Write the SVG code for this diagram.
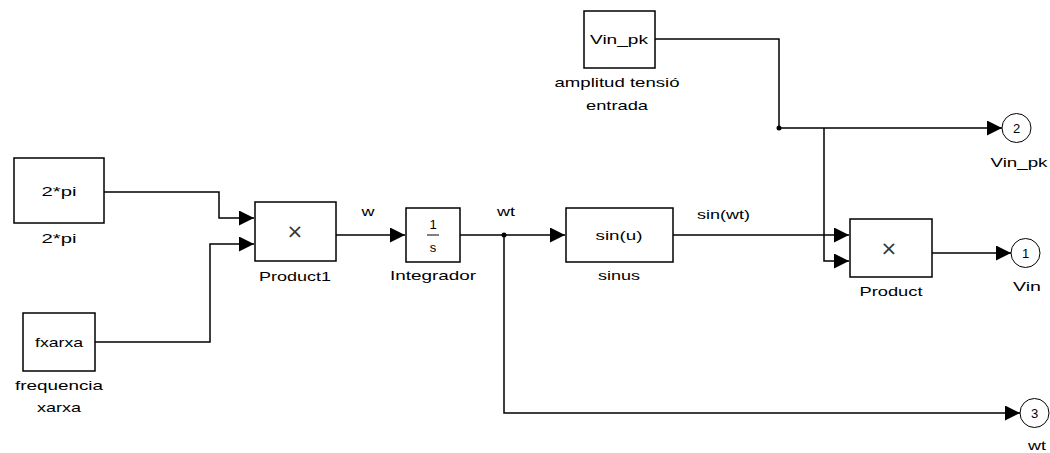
<svg xmlns="http://www.w3.org/2000/svg" width="1050" height="453" viewBox="0 0 1050 453">
<style>
.blk{fill:#fff;stroke:#000;stroke-width:1.5}
.port{fill:#fff;stroke:#000;stroke-width:1}
.t{font-family:"Liberation Sans",Arial,sans-serif;font-size:13px;fill:#000}
.c{text-anchor:middle}
.x{font-family:"DejaVu Sans",sans-serif;font-size:20px;fill:#333;text-anchor:middle}
.w{fill:none;stroke:#000;stroke-width:1.5}
</style>
<defs>
<marker id="ah" markerUnits="userSpaceOnUse" markerWidth="16" markerHeight="16" refX="15" refY="7.5" orient="auto">
<path d="M0,0 L15,7.5 L0,15 z" fill="#000"/>
</marker>
</defs>
<rect width="1050" height="453" fill="#fff"/>
<g id="connectors">
<path class="w" d="M104,192 H219 V218 H254" marker-end="url(#ah)"/>
<path class="w" d="M95,342 H210 V244 H254" marker-end="url(#ah)"/>
<path class="w" d="M336,235 H405" marker-end="url(#ah)"/>
<path class="w" d="M460,235 H565" marker-end="url(#ah)"/>
<path class="w" d="M504,235 V413 H1020" marker-end="url(#ah)"/>
<path class="w" d="M673,235 H849" marker-end="url(#ah)"/>
<path class="w" d="M655,39 H779 V128 H1002" marker-end="url(#ah)"/>
<path class="w" d="M824,128 V261 H849" marker-end="url(#ah)"/>
<path class="w" d="M932,253 H1011" marker-end="url(#ah)"/>
<circle cx="504" cy="235" r="2.5" fill="#000"/>
<circle cx="779" cy="128" r="2.5" fill="#000"/>
<text class="t c" x="368" y="216" textLength="13" lengthAdjust="spacingAndGlyphs">w</text>
<text class="t c" x="506" y="216" textLength="18" lengthAdjust="spacingAndGlyphs">wt</text>
<text class="t" x="697" y="219" textLength="53" lengthAdjust="spacingAndGlyphs">sin(wt)</text>
</g>
<g id="twopi">
<rect class="blk" x="14" y="158" width="90" height="65"/>
<text class="t c" x="59" y="196" textLength="35" lengthAdjust="spacingAndGlyphs">2*pi</text>
<text class="t c" x="59" y="243" textLength="35" lengthAdjust="spacingAndGlyphs">2*pi</text>
</g>
<g id="fxarxa">
<rect class="blk" x="23" y="313" width="72" height="58"/>
<text class="t c" x="59" y="347" textLength="48" lengthAdjust="spacingAndGlyphs">fxarxa</text>
<text class="t c" x="59" y="390" textLength="88" lengthAdjust="spacingAndGlyphs">frequencia</text>
<text class="t c" x="59" y="412" textLength="44" lengthAdjust="spacingAndGlyphs">xarxa</text>
</g>
<g id="product1">
<rect class="blk" x="255" y="202" width="81" height="59"/>
<text class="x" x="295" y="238">×</text>
<text class="t c" x="295" y="281" textLength="72" lengthAdjust="spacingAndGlyphs">Product1</text>
</g>
<g id="integrador">
<rect class="blk" x="406" y="208" width="54" height="54"/>
<text class="t c" x="433" y="229">1</text>
<line x1="427" y1="235" x2="439" y2="235" stroke="#000" stroke-width="1"/>
<text class="t c" x="433" y="252">s</text>
<text class="t c" x="433" y="280" textLength="86" lengthAdjust="spacingAndGlyphs">Integrador</text>
</g>
<g id="sinus">
<rect class="blk" x="566" y="208" width="107" height="54"/>
<text class="t c" x="619" y="240" textLength="47" lengthAdjust="spacingAndGlyphs">sin(u)</text>
<text class="t c" x="619" y="280" textLength="42" lengthAdjust="spacingAndGlyphs">sinus</text>
</g>
<g id="vinpk">
<rect class="blk" x="584" y="11" width="71" height="57"/>
<text class="t c" x="619" y="44" textLength="58" lengthAdjust="spacingAndGlyphs">Vin_pk</text>
<text class="t c" x="617" y="87" textLength="125" lengthAdjust="spacingAndGlyphs">amplitud tensió</text>
<text class="t c" x="617" y="110" textLength="62" lengthAdjust="spacingAndGlyphs">entrada</text>
</g>
<g id="product">
<rect class="blk" x="850" y="219" width="82" height="58"/>
<text class="x" x="889" y="255">×</text>
<text class="t c" x="891" y="296" textLength="63" lengthAdjust="spacingAndGlyphs">Product</text>
</g>
<g id="out2">
<circle class="port" cx="1016.5" cy="128" r="14.5"/>
<text class="t c" x="1016.5" y="133">2</text>
<text class="t c" x="1019" y="167" textLength="57" lengthAdjust="spacingAndGlyphs">Vin_pk</text>
</g>
<g id="out1">
<circle class="port" cx="1025.5" cy="253" r="14.5"/>
<text class="t c" x="1025.5" y="258">1</text>
<text class="t c" x="1027" y="291" textLength="28" lengthAdjust="spacingAndGlyphs">Vin</text>
</g>
<g id="out3">
<circle class="port" cx="1034.5" cy="413" r="14.5"/>
<text class="t c" x="1034.5" y="418">3</text>
<text class="t c" x="1037" y="450" textLength="18" lengthAdjust="spacingAndGlyphs">wt</text>
</g>
</svg>
